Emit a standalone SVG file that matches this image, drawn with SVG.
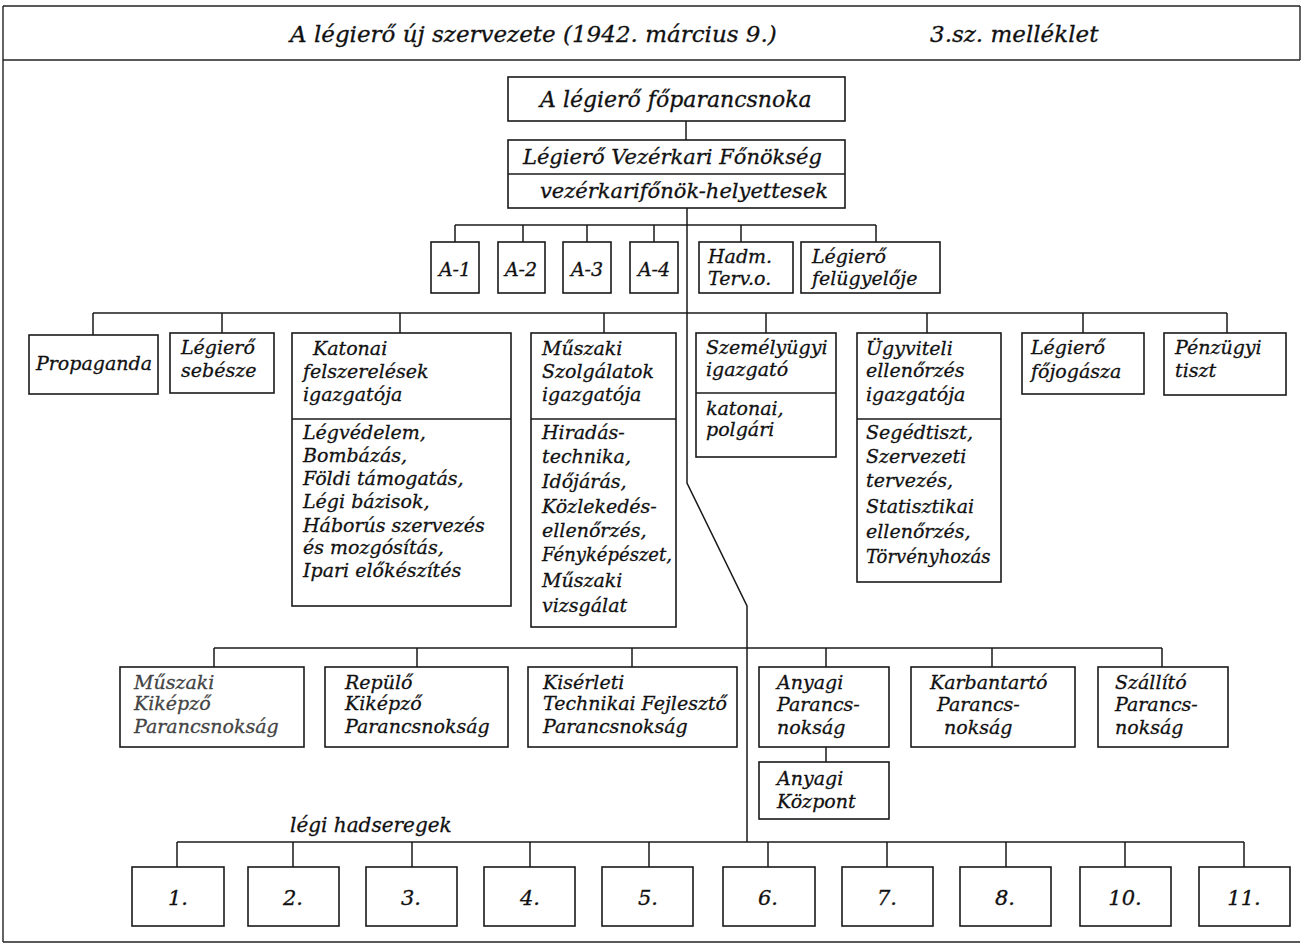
<svg xmlns="http://www.w3.org/2000/svg" width="1303" height="945" viewBox="0 0 1303 945">
<style>
.frame{stroke:#222;stroke-width:1.4;fill:none}
.ln{stroke:#1a1a1a;stroke-width:1.5;fill:none}
.box{fill:#fff;stroke:#1a1a1a;stroke-width:1.6}
.t{font-family:"DejaVu Serif","Liberation Serif",serif;font-style:italic;font-size:19px;fill:#111;stroke:#111;stroke-width:0.3}
.tl{font-size:21px}
.tn{font-size:21px}
.tc{text-anchor:middle}
.g{fill:#444;stroke:#444}
</style>
<rect width="1303" height="945" fill="#fff"/>
<g id="frame">
<line class="frame" x1="3" y1="6" x2="1300" y2="6"/>
<line class="frame" x1="3" y1="60" x2="1300" y2="60"/>
<line class="frame" x1="3" y1="6" x2="3" y2="942"/>
<line class="frame" x1="1300" y1="6" x2="1300" y2="60"/>
<line class="frame" x1="3" y1="942" x2="1300" y2="942"/>
<text class="t" x="290" y="42" style="font-size:23px">A légierő új szervezete (1942. március 9.)</text>
<text class="t" x="930" y="42" style="font-size:23px">3.sz. melléklet</text>
</g>
<g id="connectors">
<line class="ln" x1="686" y1="121" x2="686" y2="140"/>
<polyline class="ln" points="687,208 687,483 747,606 747,842"/>
<line class="ln" x1="455" y1="225" x2="876" y2="225"/>
<path class="ln" d="M455,225V242M523,225V242M587,225V242M654,225V242M741,225V242M876,225V242"/>
<line class="ln" x1="93" y1="313" x2="1227" y2="313"/>
<path class="ln" d="M93,313V335M222,313V333M400,313V333M604,313V333M766,313V333M927,313V333M1083,313V333M1227,313V333"/>
<line class="ln" x1="214" y1="648" x2="1162" y2="648"/>
<path class="ln" d="M214,648V667M417,648V667M632,648V667M826,648V667M992,648V667M1162,648V667"/>
<line class="ln" x1="826" y1="747" x2="826" y2="762"/>
<line class="ln" x1="177" y1="842" x2="1244" y2="842"/>
<path class="ln" d="M177,842V867M293,842V867M412,842V867M530,842V867M649,842V867M768,842V867M887,842V867M1006,842V867M1125,842V867M1244,842V867"/>
</g>
<g id="n-fo">
<rect class="box" x="508" y="77" width="337" height="44"/>
<text class="t tl" x="540" y="107" style="font-size:22px">A légierő főparancsnoka</text>
</g>
<g id="n-vk">
<rect class="box" x="508" y="140" width="337" height="68"/>
<line class="ln" x1="508" y1="174" x2="845" y2="174"/>
<text class="t tl" x="523" y="164">Légierő Vezérkari Főnökség</text>
<text class="t tl" x="540" y="198">vezérkarifőnök-helyettesek</text>
</g>
<g id="n-a1"><rect class="box" x="431" y="242" width="48" height="51"/><text class="t tc" x="455" y="276">A-1</text></g>
<g id="n-a2"><rect class="box" x="498" y="242" width="47" height="51"/><text class="t tc" x="521" y="276">A-2</text></g>
<g id="n-a3"><rect class="box" x="563" y="242" width="48" height="51"/><text class="t tc" x="587" y="276">A-3</text></g>
<g id="n-a4"><rect class="box" x="630" y="242" width="48" height="51"/><text class="t tc" x="654" y="276">A-4</text></g>
<g id="n-hadm"><rect class="box" x="699" y="242" width="94" height="51"/><text class="t" x="708" y="263">Hadm.</text><text class="t" x="708" y="285">Terv.o.</text></g>
<g id="n-felugy"><rect class="box" x="801" y="242" width="139" height="51"/><text class="t" x="812" y="263">Légierő</text><text class="t" x="812" y="285">felügyelője</text></g>
<g id="n-prop"><rect class="box" x="29" y="335" width="129" height="59"/><text class="t" x="36" y="370">Propaganda</text></g>
<g id="n-seb"><rect class="box" x="170" y="333" width="104" height="60"/><text class="t" x="181" y="354">Légierő</text><text class="t" x="181" y="377">sebésze</text></g>
<g id="n-kat">
<rect class="box" x="292" y="333" width="219" height="273"/>
<line class="ln" x1="292" y1="419" x2="511" y2="419"/>
<text class="t" x="313" y="355">Katonai</text><text class="t" x="303" y="378">felszerelések</text><text class="t" x="303" y="401">igazgatója</text>
<text class="t" x="303" y="439">Légvédelem,</text><text class="t" x="303" y="462">Bombázás,</text><text class="t" x="303" y="485">Földi támogatás,</text><text class="t" x="303" y="508">Légi bázisok,</text><text class="t" x="303" y="532">Háborús szervezés</text><text class="t" x="303" y="554">és mozgósítás,</text><text class="t" x="303" y="577">Ipari előkészítés</text>
</g>
<g id="n-musz">
<rect class="box" x="531" y="333" width="145" height="294"/>
<line class="ln" x1="531" y1="419" x2="676" y2="419"/>
<text class="t" x="542" y="355">Műszaki</text><text class="t" x="542" y="378">Szolgálatok</text><text class="t" x="542" y="401">igazgatója</text>
<text class="t" x="542" y="439">Hiradás-</text><text class="t" x="542" y="463">technika,</text><text class="t" x="542" y="488">Időjárás,</text><text class="t" x="542" y="513">Közlekedés-</text><text class="t" x="542" y="537">ellenőrzés,</text><text class="t" x="542" y="561" style="font-size:18px">Fényképészet,</text><text class="t" x="542" y="587">Műszaki</text><text class="t" x="542" y="612">vizsgálat</text>
</g>
<g id="n-szem">
<rect class="box" x="696" y="333" width="140" height="124"/>
<line class="ln" x1="696" y1="393" x2="836" y2="393"/>
<text class="t" x="706" y="354">Személyügyi</text><text class="t" x="706" y="376">igazgató</text>
<text class="t" x="706" y="415">katonai,</text><text class="t" x="706" y="436">polgári</text>
</g>
<g id="n-ugyv">
<rect class="box" x="857" y="333" width="144" height="249"/>
<line class="ln" x1="857" y1="419" x2="1001" y2="419"/>
<text class="t" x="866" y="355">Ügyviteli</text><text class="t" x="866" y="377">ellenőrzés</text><text class="t" x="866" y="401">igazgatója</text>
<text class="t" x="866" y="439">Segédtiszt,</text><text class="t" x="866" y="463">Szervezeti</text><text class="t" x="866" y="487">tervezés,</text><text class="t" x="866" y="513">Statisztikai</text><text class="t" x="866" y="538">ellenőrzés,</text><text class="t" x="866" y="563" style="font-size:18px">Törvényhozás</text>
</g>
<g id="n-jog"><rect class="box" x="1022" y="333" width="122" height="61"/><text class="t" x="1031" y="354">Légierő</text><text class="t" x="1031" y="378">főjogásza</text></g>
<g id="n-penz"><rect class="box" x="1164" y="333" width="122" height="62"/><text class="t" x="1175" y="354">Pénzügyi</text><text class="t" x="1175" y="377">tiszt</text></g>
<g id="n-mkk"><rect class="box" x="120" y="667" width="184" height="80"/><text class="t g" x="134" y="689">Műszaki</text><text class="t g" x="134" y="710">Kiképző</text><text class="t g" x="134" y="733">Parancsnokság</text></g>
<g id="n-rkk"><rect class="box" x="325" y="667" width="183" height="80"/><text class="t" x="345" y="689">Repülő</text><text class="t" x="345" y="710">Kiképző</text><text class="t" x="345" y="733">Parancsnokság</text></g>
<g id="n-kis"><rect class="box" x="528" y="667" width="209" height="80"/><text class="t" x="543" y="689">Kisérleti</text><text class="t" x="543" y="710">Technikai Fejlesztő</text><text class="t" x="543" y="733">Parancsnokság</text></g>
<g id="n-anyp"><rect class="box" x="759" y="667" width="130" height="80"/><text class="t" x="777" y="689">Anyagi</text><text class="t" x="777" y="711">Parancs-</text><text class="t" x="777" y="734">nokság</text></g>
<g id="n-karb"><rect class="box" x="911" y="667" width="164" height="80"/><text class="t" x="930" y="689">Karbantartó</text><text class="t" x="937" y="711">Parancs-</text><text class="t" x="944" y="734">nokság</text></g>
<g id="n-szall"><rect class="box" x="1098" y="667" width="130" height="80"/><text class="t" x="1115" y="689">Szállító</text><text class="t" x="1115" y="711">Parancs-</text><text class="t" x="1115" y="734">nokság</text></g>
<g id="n-anyk"><rect class="box" x="759" y="762" width="130" height="57"/><text class="t" x="777" y="785">Anyagi</text><text class="t" x="777" y="808">Központ</text></g>
<g id="lbl-legi"><text class="t" x="290" y="832" style="font-size:20px">légi hadseregek</text></g>
<g id="n-h1"><rect class="box" x="132" y="867" width="92" height="59"/><text class="t tc tn" x="178" y="905">1.</text></g>
<g id="n-h2"><rect class="box" x="248" y="867" width="91" height="59"/><text class="t tc tn" x="293" y="905">2.</text></g>
<g id="n-h3"><rect class="box" x="366" y="867" width="91" height="59"/><text class="t tc tn" x="411" y="905">3.</text></g>
<g id="n-h4"><rect class="box" x="484" y="867" width="91" height="59"/><text class="t tc tn" x="530" y="905">4.</text></g>
<g id="n-h5"><rect class="box" x="602" y="867" width="91" height="59"/><text class="t tc tn" x="648" y="905">5.</text></g>
<g id="n-h6"><rect class="box" x="723" y="867" width="92" height="59"/><text class="t tc tn" x="768" y="905">6.</text></g>
<g id="n-h7"><rect class="box" x="842" y="867" width="91" height="59"/><text class="t tc tn" x="887" y="905">7.</text></g>
<g id="n-h8"><rect class="box" x="960" y="867" width="91" height="59"/><text class="t tc tn" x="1005" y="905">8.</text></g>
<g id="n-h10"><rect class="box" x="1080" y="867" width="91" height="59"/><text class="t tc tn" x="1125" y="905">10.</text></g>
<g id="n-h11"><rect class="box" x="1199" y="867" width="91" height="59"/><text class="t tc tn" x="1244" y="905">11.</text></g>
</svg>
